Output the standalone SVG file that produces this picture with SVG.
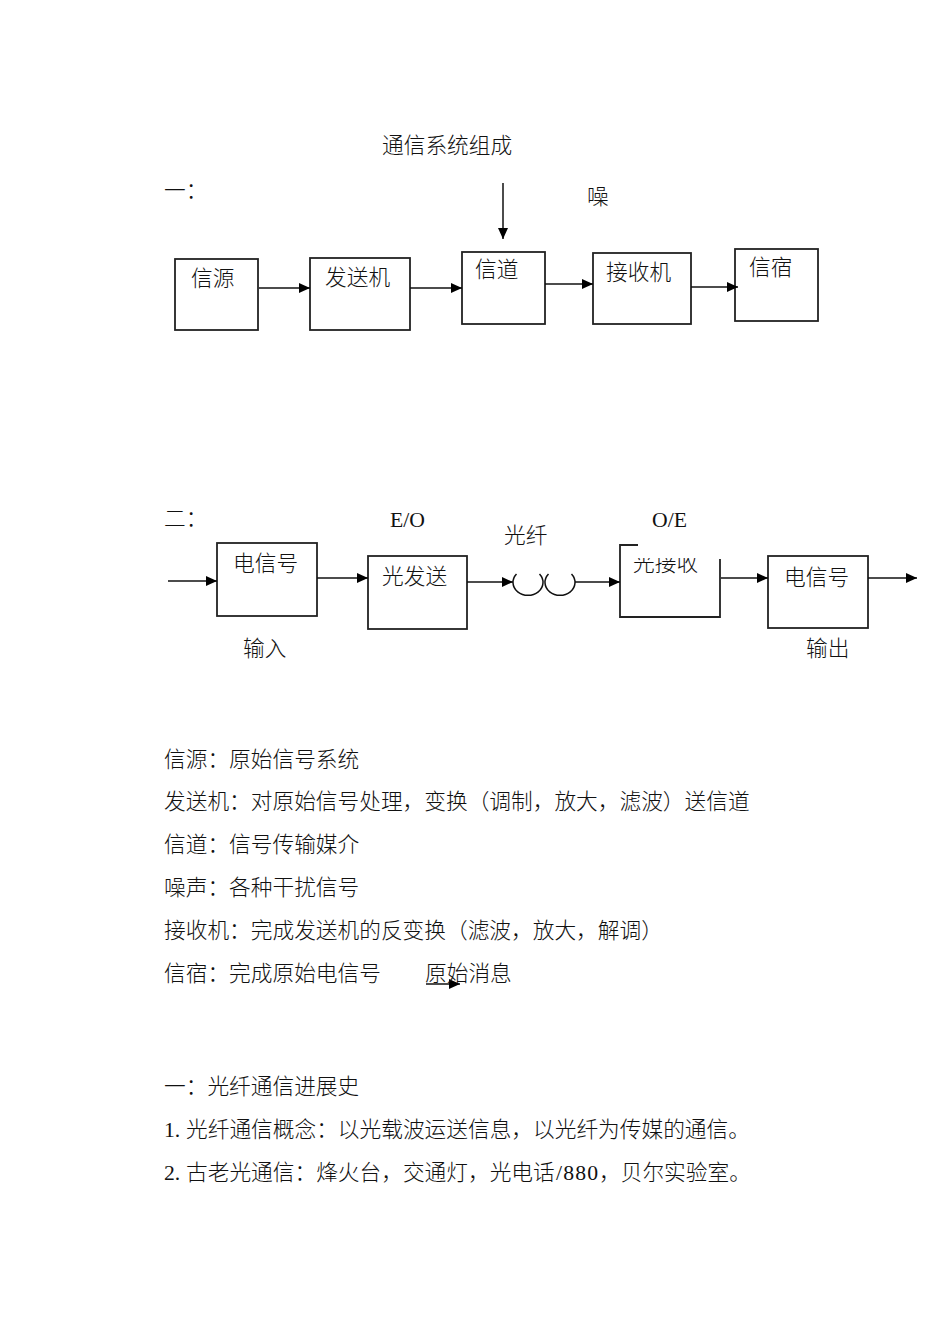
<svg xmlns="http://www.w3.org/2000/svg" width="950" height="1342" viewBox="0 0 950 1342">
<style>
text{font-family:"Liberation Serif","Noto Sans CJK SC",serif;font-size:21.7px;fill:#111;font-weight:300}
.box{fill:none;stroke:#222;stroke-width:1.8}
.ln{fill:none;stroke:#111;stroke-width:1.5}
</style>
<defs>
<marker id="ah" markerUnits="userSpaceOnUse" markerWidth="11" markerHeight="10" refX="11" refY="5" orient="auto">
<path d="M0,0 L11,5 L0,10 z" fill="#000"/>
</marker>
<clipPath id="clipRx"><rect x="620" y="558" width="100" height="50"/></clipPath>
</defs>
<rect width="950" height="1342" fill="#fff"/>

<text x="382" y="153">通信系统组成</text>
<text x="164" y="198">一：</text>
<text x="587" y="204">噪</text>

<g id="n1"><rect class="box" x="175" y="259" width="83" height="71"/><text x="191" y="286">信源</text></g>
<g id="n2"><rect class="box" x="310" y="258" width="100" height="72"/><text x="325" y="285">发送机</text></g>
<g id="n3"><rect class="box" x="462" y="252" width="83" height="72"/><text x="475" y="277">信道</text></g>
<g id="n4"><rect class="box" x="593" y="253" width="98" height="71"/><text x="606" y="280">接收机</text></g>
<g id="n5"><rect class="box" x="735" y="249" width="83" height="72"/><text x="749" y="275">信宿</text></g>

<text x="164" y="526">二：</text>
<text x="390" y="527">E/O</text>
<text x="504" y="543">光纤</text>
<text x="652" y="527">O/E</text>

<g id="m1"><rect class="box" x="217" y="543" width="100" height="73"/><text x="233" y="571">电信号</text></g>
<g id="m2"><rect class="box" x="368" y="556" width="99" height="73"/><text x="382" y="584">光发送</text></g>
<g id="m3"><path class="box" d="M638,545 L620,545 L620,617 L720,617 L720,559"/><text x="633" y="571" clip-path="url(#clipRx)">光接收</text></g>
<g id="m4"><rect class="box" x="768" y="556" width="100" height="72"/><text x="784" y="585">电信号</text></g>
<text x="243" y="656">输入</text>
<text x="806" y="656">输出</text>

<g id="connectors">
<line class="ln" x1="503" y1="183" x2="503" y2="239" marker-end="url(#ah)"/>
<line class="ln" x1="259" y1="288" x2="310" y2="288" marker-end="url(#ah)"/>
<line class="ln" x1="410" y1="288" x2="462" y2="288" marker-end="url(#ah)"/>
<line class="ln" x1="545" y1="284" x2="593" y2="284" marker-end="url(#ah)"/>
<line class="ln" x1="691" y1="287" x2="738" y2="287" marker-end="url(#ah)"/>
<line class="ln" x1="168" y1="581" x2="217" y2="581" marker-end="url(#ah)"/>
<line class="ln" x1="317" y1="578" x2="368" y2="578" marker-end="url(#ah)"/>
<line class="ln" x1="467" y1="582" x2="513" y2="582" marker-end="url(#ah)"/>
<path class="ln" d="M516.5,574 A15,13 0 1 0 539.5,574"/>
<path class="ln" d="M548.5,574 A15,13 0 1 0 571.5,574"/>
<line class="ln" x1="575" y1="582" x2="620" y2="582" marker-end="url(#ah)"/>
<line class="ln" x1="721" y1="578" x2="768" y2="578" marker-end="url(#ah)"/>
<line class="ln" x1="868" y1="578" x2="917" y2="578" marker-end="url(#ah)"/>
<line class="ln" x1="426" y1="984" x2="460" y2="984" marker-end="url(#ah)"/>
</g>

<text x="164" y="767">信源：原始信号系统</text>
<text x="164" y="809">发送机：对原始信号处理，变换（调制，放大，滤波）送信道</text>
<text x="164" y="852">信道：信号传输媒介</text>
<text x="164" y="895">噪声：各种干扰信号</text>
<text x="164" y="938">接收机：完成发送机的反变换（滤波，放大，解调）</text>
<text x="164" y="981">信宿：完成原始电信号<tspan x="425">原始消息</tspan></text>

<text x="164" y="1094">一：光纤通信进展史</text>
<text x="164" y="1137">1.<tspan x="186">光纤通信概念：以光载波运送信息，以光纤为传媒的通信。</tspan></text>
<text x="164" y="1180">2.<tspan x="186">古老光通信：烽火台，交通灯，光电话</tspan><tspan x="556" textLength="42" lengthAdjust="spacing">/880</tspan><tspan x="599">，贝尔实验室。</tspan></text>
</svg>
